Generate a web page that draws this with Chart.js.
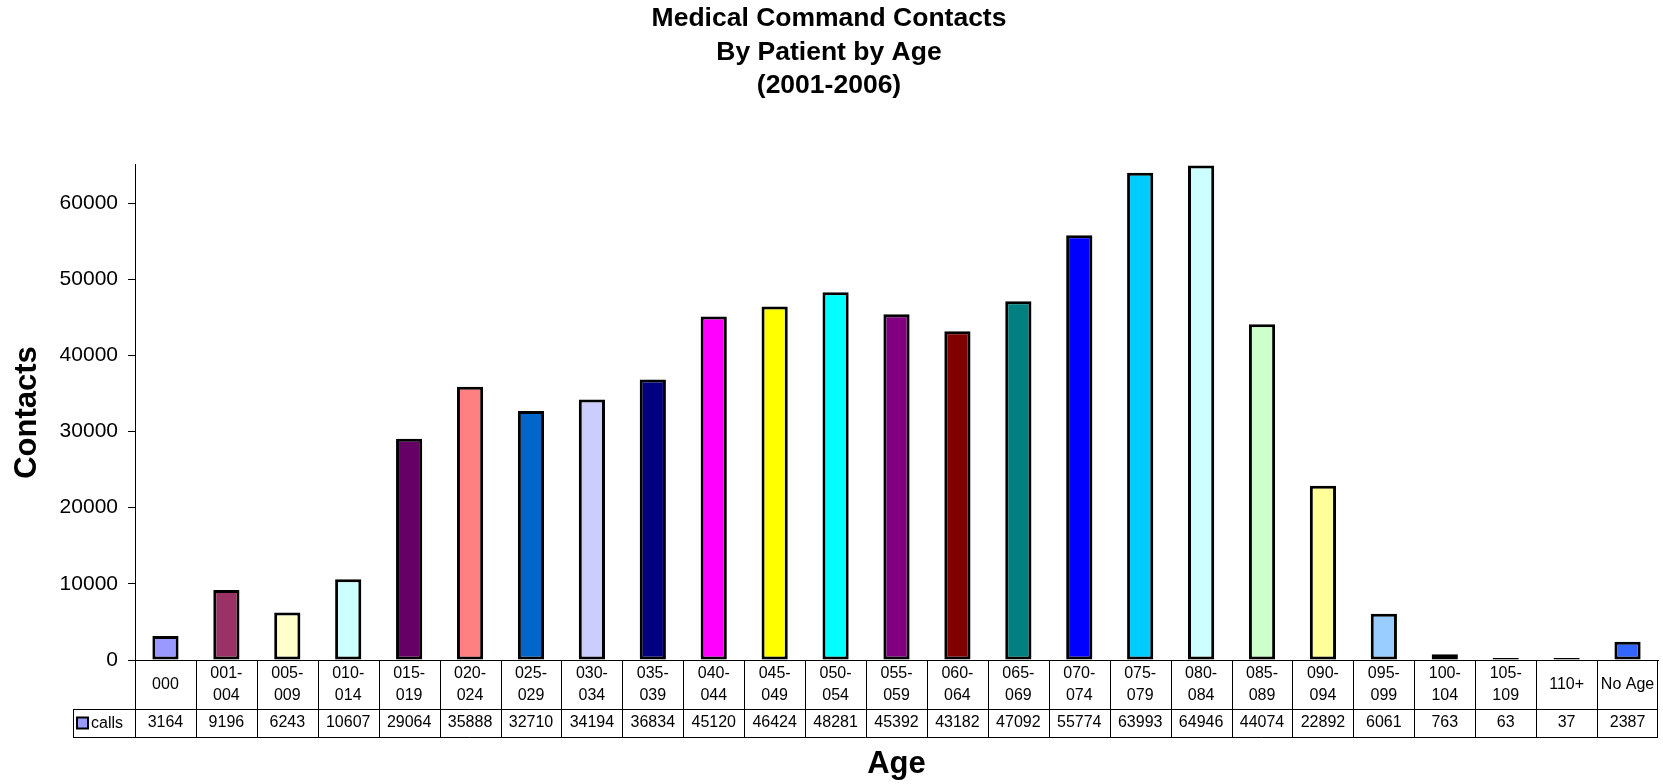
<!DOCTYPE html>
<html>
<head>
<meta charset="utf-8">
<title>Medical Command Contacts By Patient by Age</title>
<script src="https://cdn.jsdelivr.net/npm/chart.js@4.4.1/dist/chart.umd.min.js"></script>
<style>
  html, body { margin: 0; padding: 0; background: #fff; }
  #wrap { width: 1663px; height: 784px; position: relative; }
</style>
</head>
<body>
<div id="wrap"><canvas id="ageChart"></canvas></div>
<script>
const titleLines = ['Medical Command Contacts', 'By Patient by Age', '(2001-2006)'];
const seriesName = 'calls';

const ageGroups = [
  '000', '001-004', '005-009', '010-014', '015-019', '020-024', '025-029',
  '030-034', '035-039', '040-044', '045-049', '050-054', '055-059', '060-064',
  '065-069', '070-074', '075-079', '080-084', '085-089', '090-094', '095-099',
  '100-104', '105-109', '110+', 'No Age'
];

const calls = [
  3164, 9196, 6243, 10607, 29064, 35888, 32710,
  34194, 36834, 45120, 46424, 48281, 45392, 43182,
  47092, 55774, 63993, 64946, 44074, 22892, 6061,
  763, 63, 37, 2387
];

// one fill per age group, old office palette order
const barColors = [
  '#9999FF', '#993366', '#FFFFCC', '#CCFFFF', '#660066', '#FF8080', '#0066CC',
  '#CCCCFF', '#000080', '#FF00FF', '#FFFF00', '#00FFFF', '#800080', '#800000',
  '#008080', '#0000FF', '#00CCFF', '#CCFFFF', '#CCFFCC', '#FFFF99', '#99CCFF',
  '#FF99CC', '#CC99FF', '#FFCC99', '#3366FF'
];

const yTickValues = [0, 10000, 20000, 30000, 40000, 50000, 60000];

const FONT = '"Liberation Sans", Arial, sans-serif';
Chart.defaults.font.family = FONT;
Chart.defaults.color = '#000';

// split "001-004" into "001-" / "004" like a wrapped cell
function headerLines(label) {
  const i = label.indexOf('-');
  return i > 0 ? [label.slice(0, i + 1), label.slice(i + 1)] : [label];
}

const crisp = v => Math.round(v) + 0.5;

// data table under the plot: age headers, legend key, values
const dataTable = {
  id: 'dataTable',
  afterDraw(chart) {
    const { ctx, chartArea: area, scales: { x } } = chart;
    const n = ageGroups.length;
    const step = (area.right - area.left) / n;
    const top = area.bottom;
    const mid = top + 49;
    const bot = top + 77;
    const keyLeft = 73;

    ctx.save();
    ctx.strokeStyle = '#000';
    ctx.lineWidth = 1;
    ctx.beginPath();
    ctx.moveTo(area.left, crisp(top));
    ctx.lineTo(area.right, crisp(top));
    ctx.moveTo(keyLeft, crisp(mid));
    ctx.lineTo(area.right, crisp(mid));
    ctx.moveTo(keyLeft, crisp(bot));
    ctx.lineTo(area.right, crisp(bot));
    for (let i = 0; i <= n; i++) {
      const xb = crisp(i === n ? area.right - 1 : x.getPixelForValue(i) - step / 2);
      ctx.moveTo(xb, top);
      ctx.lineTo(xb, bot);
    }
    ctx.moveTo(crisp(keyLeft), mid);
    ctx.lineTo(crisp(keyLeft), bot);
    ctx.stroke();

    ctx.fillStyle = '#000';
    ctx.font = '16px ' + FONT;
    ctx.textAlign = 'center';
    ctx.textBaseline = 'middle';
    const headMid = (top + mid) / 2;
    const lh = 22;
    ageGroups.forEach((label, i) => {
      const cx = x.getPixelForValue(i);
      const lines = headerLines(label);
      lines.forEach((t, j) => {
        ctx.fillText(t, cx, headMid + (j - (lines.length - 1) / 2) * lh);
      });
      ctx.fillText(String(calls[i]), cx, (mid + bot) / 2);
    });

    // legend key in the row header
    const rowMid = (mid + bot) / 2;
    ctx.fillStyle = barColors[0];
    ctx.fillRect(77, rowMid - 5.5, 11, 11);
    ctx.lineWidth = 2;
    ctx.strokeRect(77, rowMid - 5.5, 11, 11);
    ctx.fillStyle = '#000';
    ctx.textAlign = 'left';
    ctx.fillText(seriesName, 91, rowMid + 1);
    ctx.restore();
  }
};

new Chart(document.getElementById('ageChart'), {
  type: 'bar',
  data: {
    labels: ageGroups,
    datasets: [{
      label: seriesName,
      data: calls,
      backgroundColor: barColors,
      borderColor: '#000',
      borderWidth: 3,
      borderSkipped: false,
      minBarLength: 2,
      barPercentage: 0.43,
      categoryPercentage: 1
    }]
  },
  options: {
    responsive: true,
    maintainAspectRatio: false,
    animation: false,
    layout: { padding: { left: 0, right: 5, top: 0, bottom: 0 } },
    plugins: {
      legend: { display: false },
      tooltip: { enabled: false },
      title: {
        display: true,
        text: titleLines,
        color: '#000',
        font: { size: 26.5, weight: 'bold', lineHeight: 1.264 },
        padding: { top: 2, bottom: 62.5 }
      }
    },
    scales: {
      x: {
        grid: { display: false },
        border: { display: true, color: '#000', width: 1 },
        ticks: { display: false },
        title: {
          display: true,
          text: 'Age',
          color: '#000',
          font: { size: 31, weight: 'bold', lineHeight: 1.2 },
          padding: { top: 0, bottom: 1.4 }
        },
        afterFit: s => { s.height = 124; }
      },
      y: {
        min: 0,
        max: 65000,
        afterBuildTicks: s => { s.ticks = yTickValues.map(v => ({ value: v })); },
        ticks: {
          color: '#000',
          font: { size: 21 },
          padding: 10,
          callback: v => String(v)
        },
        grid: { drawOnChartArea: false, drawTicks: true, tickLength: 7, color: '#000' },
        border: { display: true, color: '#000', width: 1 },
        title: {
          display: true,
          text: 'Contacts',
          color: '#000',
          font: { size: 31, weight: 'bold', lineHeight: 1.2 },
          padding: { top: 8.4, bottom: 0 }
        },
        afterFit: s => { s.width = 135; }
      }
    }
  },
  plugins: [dataTable]
});
</script>
</body>
</html>
